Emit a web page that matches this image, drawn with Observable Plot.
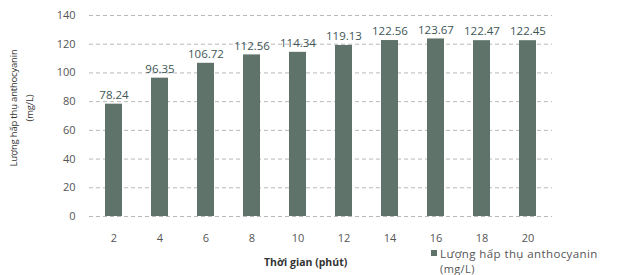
<!DOCTYPE html>
<html><head><meta charset="utf-8">
<script src="https://cdn.jsdelivr.net/npm/d3@7"></script>
<script src="https://cdn.jsdelivr.net/npm/@observablehq/plot@0.6"></script>
<style>
body{margin:0;background:#fff;font-family:"Open Sans",sans-serif;}
#wrap{position:relative;width:627px;height:275px;}
.lbl{position:absolute;color:#333;white-space:nowrap;}
</style></head>
<body><div id="wrap"></div>
<script>
const times = [2,4,6,8,10,12,14,16,18,20];
const values = [78.24,96.35,106.72,112.56,114.34,119.13,122.56,123.67,122.47,122.45];
const yTicks = [0,20,40,60,80,100,120,140];
const data = times.map((t,i)=>({t:String(t), v:values[i]}));
const barColor = "#5f736b";

const chart = Plot.plot({
  width: 627, height: 275,
  marginTop: 15, marginBottom: 59, marginLeft: 89, marginRight: 75,
  style:{fontFamily:"Open Sans, sans-serif", fontSize:"11px", color:"#555", background:"#fff"},
  x:{domain:times.map(String), paddingInner:0.62, paddingOuter:0.31, label:null, tickSize:0, tickPadding:18},
  y:{domain:[0,140], ticks:yTicks, label:null, tickSize:0, tickPadding:14},
  marks:[
    Plot.ruleY(yTicks,{stroke:"#b8b8b8", strokeDasharray:"4,3", strokeWidth:1}),
    Plot.ruleX([0],{frameAnchor:"left", stroke:"#c8c8c8"}),
    Plot.barY(data,{x:"t", y:"v", fill:barColor}),
    Plot.text(data,{x:"t", y:"v", text:d=>d.v.toFixed(2), dy:-9, fill:"#3e5656", fontSize:11.5})
  ]
});
document.getElementById("wrap").appendChild(chart);
chart.style.position="absolute"; chart.style.left="0"; chart.style.top="0";

const w = document.getElementById("wrap");
const yt = document.createElement("div");
yt.style.cssText="position:absolute;left:22px;top:108px;width:0;height:0;";
yt.innerHTML="<div style='position:absolute;left:0;top:0;transform:translate(-50%,-50%) rotate(-90deg);white-space:nowrap;font-size:9.5px;line-height:16px;text-align:center;color:#333;letter-spacing:-0.2px'>Lượng hấp thụ anthocyanin<br>(mg/L)</div>";
w.appendChild(yt);

const xt = document.createElement("div");
xt.className="lbl";
xt.style.cssText+="left:264px;top:255px;font-size:10.5px;font-weight:bold;";
xt.textContent="Thời gian (phút)";
w.appendChild(xt);

const lg1 = document.createElement("div");
lg1.className="lbl";
lg1.style.cssText+="left:431px;top:247px;font-size:11.5px;line-height:14px;color:#555;letter-spacing:0.4px;";
lg1.innerHTML="<span style='display:inline-block;width:6px;height:6px;background:"+barColor+";margin-right:3px;vertical-align:2px'></span>Lượng hấp thụ anthocyanin";
w.appendChild(lg1);
const lg2 = document.createElement("div");
lg2.className="lbl";
lg2.style.cssText+="left:440px;top:263px;font-size:11px;line-height:12px;color:#555;letter-spacing:0.4px;";
lg2.textContent="(mg/L)";
w.appendChild(lg2);
</script></body></html>
